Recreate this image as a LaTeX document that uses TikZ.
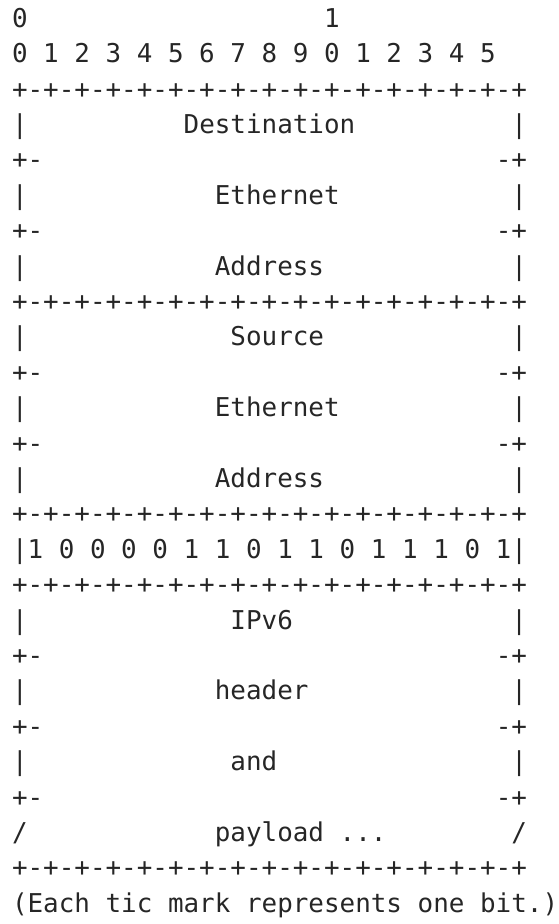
\documentclass[tikz,border=0pt]{standalone}
\usepackage{fontspec}
\setmonofont{DejaVu Sans Mono}

% n blank columns of the monospaced grid
\newcommand{\gap}[1]{\hspace*{#1\fontcharwd\font`\x}}

\begin{document}
\begin{tikzpicture}[x=7.8pt,y=-17.7pt,
                    row/.style={anchor=base west,inner sep=0pt,outer sep=0pt,text=black!85,
                      font=\ttfamily\fontsize{12.96pt}{17.7pt}\selectfont}]
  \useasboundingbox (-6pt,13.65pt) rectangle ++(279pt,-462pt);

  % bit numbering
  \node[row] (tens)    at (0,0)  {0\gap{19}1};
  \node[row] (ones)    at (0,1)  {0 1 2 3 4 5 6 7 8 9 0 1 2 3 4 5};
  \node[row] (top)     at (0,2)  {+-+-+-+-+-+-+-+-+-+-+-+-+-+-+-+-+};

  % destination address
  \node[row] (dsta)    at (0,3)  {|\gap{10}Destination\gap{10}|};
  \node[row] (dstab)   at (0,4)  {+-\gap{29}-+};
  \node[row] (dstb)    at (0,5)  {|\gap{12}Ethernet\gap{11}|};
  \node[row] (dstbc)   at (0,6)  {+-\gap{29}-+};
  \node[row] (dstc)    at (0,7)  {|\gap{12}Address\gap{12}|};
  \node[row] (dstend)  at (0,8)  {+-+-+-+-+-+-+-+-+-+-+-+-+-+-+-+-+};

  % source address
  \node[row] (srca)    at (0,9)  {|\gap{13}Source\gap{12}|};
  \node[row] (srcab)   at (0,10) {+-\gap{29}-+};
  \node[row] (srcb)    at (0,11) {|\gap{12}Ethernet\gap{11}|};
  \node[row] (srcbc)   at (0,12) {+-\gap{29}-+};
  \node[row] (srcc)    at (0,13) {|\gap{12}Address\gap{12}|};
  \node[row] (srcend)  at (0,14) {+-+-+-+-+-+-+-+-+-+-+-+-+-+-+-+-+};

  % ethertype
  \node[row] (type)    at (0,15) {|1 0 0 0 0 1 1 0 1 1 0 1 1 1 0 1|};
  \node[row] (typeend) at (0,16) {+-+-+-+-+-+-+-+-+-+-+-+-+-+-+-+-+};

  % payload
  \node[row] (pla)     at (0,17) {|\gap{13}IPv6\gap{14}|};
  \node[row] (plab)    at (0,18) {+-\gap{29}-+};
  \node[row] (plb)     at (0,19) {|\gap{12}header\gap{13}|};
  \node[row] (plbc)    at (0,20) {+-\gap{29}-+};
  \node[row] (plc)     at (0,21) {|\gap{13}and\gap{15}|};
  \node[row] (plcd)    at (0,22) {+-\gap{29}-+};
  \node[row] (pld)     at (0,23) {/\gap{12}payload ...\gap{8}/};
  \node[row] (bottom)  at (0,24) {+-+-+-+-+-+-+-+-+-+-+-+-+-+-+-+-+};

  \node[row] (note)    at (0,25) {(Each tic mark represents one bit.)};
\end{tikzpicture}
\end{document}
